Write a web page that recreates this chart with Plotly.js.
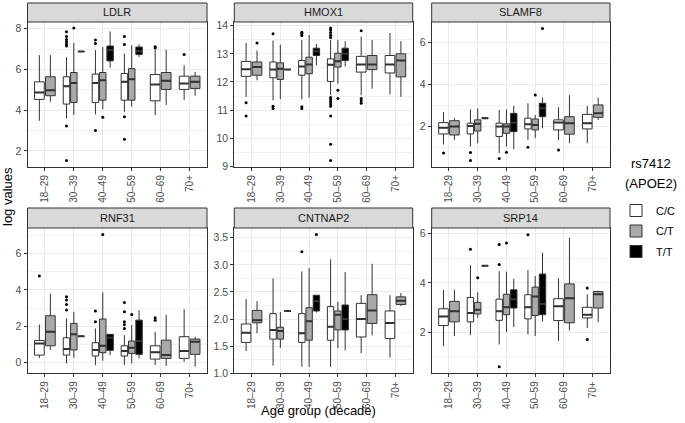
<!DOCTYPE html>
<html>
<head>
<meta charset="utf-8">
<script src="https://cdn.plot.ly/plotly-3.0.1.min.js"></script>
<style>
  html, body { margin: 0; padding: 0; background: #fff; }
  #chartDiv { width: 685px; height: 423px; }
</style>
</head>
<body>
<div id="chartDiv"></div>
<script>
// categories
var ageGroups = ['18–29', '30–39', '40–49', '50–59', '60–69', '70+'];
var genotypes = ['C/C', 'C/T', 'T/T'];
var genes = ['LDLR', 'HMOX1', 'SLAMF8', 'RNF31', 'CNTNAP2', 'SRP14'];

// box stats per age group: [lower whisker, q1, median, q3, upper whisker], null = no samples
var ldlrCC = [[3.48, 4.53, 4.87, 5.39, 6.70], [3.60, 4.30, 5.18, 5.64, 6.60], [3.79, 4.38, 5.33, 5.77, 6.95],
              [3.92, 4.49, 5.39, 5.80, 6.78], [3.76, 4.46, 5.26, 5.75, 6.95], [4.49, 5.02, 5.31, 5.67, 6.21]];
var ldlrCT = [[4.41, 4.71, 4.98, 5.64, 6.70], [3.76, 4.38, 5.34, 5.85, 7.30], [4.04, 4.49, 5.47, 5.85, 7.10],
              [4.17, 4.49, 5.52, 6.04, 7.18], [4.25, 5.02, 5.44, 5.85, 6.97], [4.71, 5.07, 5.39, 5.67, 5.88]];
var ldlrTT = [null, [6.88, 6.88, 6.88, 6.88, 6.88], [6.09, 6.42, 6.94, 7.15, 7.87], [6.61, 6.73, 6.89, 7.10, 7.23], null, null];
// outliers: [genotype index, age index, value]
var ldlrOut = [[0, 1, 7.85], [0, 1, 7.62], [0, 1, 7.47], [0, 1, 7.36], [0, 1, 7.25], [0, 1, 7.15], [0, 1, 3.22], [0, 1, 1.53],
               [0, 2, 7.45], [0, 2, 7.28], [0, 2, 3.0], [0, 3, 7.62], [0, 3, 7.22], [0, 3, 3.68], [0, 3, 2.57],
               [0, 4, 7.12], [0, 4, 7.05], [0, 5, 6.74], [1, 1, 8.03], [1, 2, 3.65]];

var hmoxCC = [[11.47, 12.20, 12.45, 12.73, 13.39], [11.35, 12.15, 12.44, 12.71, 13.47], [11.38, 12.24, 12.55, 12.76, 13.49],
              [11.53, 12.02, 12.61, 12.82, 13.49], [11.53, 12.35, 12.62, 12.91, 13.61], [11.56, 12.32, 12.62, 12.94, 13.74]];
var hmoxCT = [[12.06, 12.24, 12.53, 12.71, 13.12], [11.39, 12.09, 12.47, 12.68, 13.32], [11.45, 12.29, 12.62, 12.88, 13.67],
              [11.94, 12.53, 12.74, 13.02, 13.49], [11.76, 12.44, 12.62, 12.94, 13.49], [11.47, 12.18, 12.76, 13.00, 13.45]];
var hmoxTT = [null, [12.44, 12.44, 12.44, 12.44, 12.44], [12.59, 12.94, 13.09, 13.20, 13.35], [12.55, 12.76, 13.00, 13.20, 13.45], null, null];
var hmoxOut = [[0, 0, 11.26], [0, 0, 10.79], [0, 1, 13.71], [0, 1, 11.14], [0, 1, 11.06],
               [0, 2, 13.77], [0, 2, 13.71], [0, 2, 13.65], [0, 2, 11.12], [0, 2, 11.06],
               [0, 3, 13.92], [0, 3, 13.85], [0, 3, 13.76], [0, 3, 13.66], [0, 3, 13.58], [0, 3, 11.45], [0, 3, 11.38],
               [0, 3, 11.30], [0, 3, 11.22], [0, 3, 11.14], [0, 3, 10.79], [0, 3, 9.79], [0, 3, 9.21],
               [0, 4, 13.82], [0, 4, 11.41], [0, 4, 11.33], [0, 4, 11.24], [1, 0, 13.38], [1, 3, 11.71], [1, 3, 11.41]];

var slamCC = [[1.15, 1.65, 1.95, 2.19, 2.68], [1.05, 1.65, 2.03, 2.16, 2.82], [0.74, 1.53, 2.00, 2.16, 2.79],
              [1.37, 1.89, 2.11, 2.40, 3.11], [1.37, 1.84, 2.19, 2.32, 2.92], [1.21, 1.89, 2.16, 2.58, 2.98]];
var slamCT = [[1.37, 1.60, 2.00, 2.28, 2.40], [1.21, 1.79, 2.13, 2.32, 2.87], [1.05, 1.68, 2.00, 2.13, 2.82],
              [1.45, 1.84, 2.08, 2.36, 2.55], [1.21, 1.64, 2.16, 2.47, 3.50], [2.32, 2.44, 2.63, 3.03, 3.38]];
var slamTT = [null, [2.40, 2.40, 2.40, 2.40, 2.40], [0.92, 1.76, 2.19, 2.63, 2.98], [1.92, 2.47, 2.87, 3.11, 3.38], null, null];
var slamOut = [[0, 0, 0.74], [0, 1, 0.77], [0, 1, 0.39], [0, 2, 0.48], [0, 3, 1.02], [0, 4, 0.89],
               [1, 2, 0.78], [1, 3, 3.50], [2, 3, 6.66]];

var rnfCC = [[0.27, 0.42, 1.06, 1.22, 2.10], [-0.04, 0.42, 0.75, 1.37, 2.43], [-0.13, 0.37, 0.70, 1.10, 1.88],
             [-0.13, 0.37, 0.64, 0.93, 1.52], [-0.13, 0.20, 0.57, 0.93, 1.70], [0.05, 0.24, 0.64, 1.43, 2.93]];
var rnfCT = [[0.70, 0.93, 1.70, 2.58, 3.80], [0.27, 0.70, 1.56, 2.16, 2.80], [0.11, 0.55, 0.93, 2.40, 3.86],
             [-0.04, 0.51, 0.82, 1.19, 2.07], [-0.18, 0.24, 0.42, 1.24, 2.62], [-0.22, 0.46, 1.15, 1.30, 1.43]];
var rnfTT = [null, [1.45, 1.45, 1.45, 1.45, 1.45], [0.42, 0.68, 1.37, 1.56, 1.56], [0.24, 0.46, 1.19, 2.34, 2.89], null, null];
var rnfOut = [[0, 0, 4.76], [0, 1, 3.62], [0, 1, 3.44], [0, 1, 3.20], [0, 1, 2.89], [0, 2, 2.84], [0, 2, 2.25],
              [0, 3, 3.31], [0, 3, 2.80], [0, 3, 2.25], [0, 3, 2.10], [0, 3, 1.88], [0, 4, 2.47], [0, 4, 2.34],
              [1, 2, 7.04], [1, 3, 2.65]];

var cntCC = [[1.41, 1.57, 1.75, 1.91, 2.37], [1.14, 1.63, 1.80, 2.10, 2.75], [1.12, 1.57, 1.74, 2.10, 2.88],
             [1.12, 1.61, 1.86, 2.23, 3.10], [1.37, 1.67, 2.00, 2.29, 2.44], [1.29, 1.64, 1.93, 2.15, 2.44]];
var cntCT = [[1.74, 1.93, 1.98, 2.16, 2.33], [1.47, 1.63, 1.78, 1.85, 2.13], [1.12, 1.61, 1.96, 2.21, 2.94],
             [1.46, 1.80, 2.08, 2.15, 2.32], [1.70, 1.92, 2.16, 2.45, 3.02], [2.24, 2.27, 2.34, 2.41, 2.48]];
var cntTT = [null, [2.15, 2.15, 2.15, 2.15, 2.15], [2.12, 2.15, 2.33, 2.44, 2.44], [1.42, 1.80, 2.00, 2.26, 2.87], null, null];
var cntOut = [[0, 2, 3.24], [2, 2, 3.56]];

var srpCC = [[1.44, 2.27, 2.64, 2.95, 3.72], [1.88, 2.42, 2.78, 3.41, 4.72], [1.50, 2.48, 2.85, 3.34, 4.48],
             [1.91, 2.54, 3.01, 3.52, 4.52], [1.64, 2.47, 3.05, 3.36, 4.19], [2.17, 2.58, 2.71, 3.01, 3.54]];
var srpCT = [[1.84, 2.42, 2.85, 3.25, 3.72], [2.58, 2.74, 2.91, 3.21, 3.62], [2.01, 2.71, 3.01, 3.54, 4.46],
             [1.84, 2.68, 3.45, 3.83, 4.28], [2.07, 2.38, 3.38, 3.96, 5.84], [2.40, 2.98, 3.54, 3.65, 3.69]];
var srpTT = [null, [4.70, 4.70, 4.70, 4.70, 4.70], [2.21, 2.98, 3.34, 3.72, 4.16], [2.44, 2.71, 3.14, 4.36, 5.23], null, null];
var srpOut = [[0, 1, 5.37], [0, 2, 5.56], [0, 2, 4.75], [0, 2, 0.60], [0, 3, 5.96], [0, 5, 3.79], [0, 5, 1.70],
              [1, 1, 4.21], [1, 2, 5.62]];

// y axis ticks / ranges per facet (free scales)
var yRanges = [[1.21, 8.33], [8.98, 14.13], [0.08, 6.97], [-0.58, 7.40], [1.0, 3.68], [0.33, 6.23]];
var yTicks = [[2, 4, 6, 8], [9, 10, 11, 12, 13, 14], [2, 4, 6], [0, 2, 4, 6], [1, 1.5, 2, 2.5, 3, 3.5], [2, 4, 6]];
var yMinor = [[3, 5, 7], [9.5, 10.5, 11.5, 12.5, 13.5], [1, 3, 5], [1, 3, 5, 7], [1.25, 1.75, 2.25, 2.75, 3.25], [1, 3, 5]];

var stats = [[ldlrCC, ldlrCT, ldlrTT], [hmoxCC, hmoxCT, hmoxTT], [slamCC, slamCT, slamTT],
             [rnfCC, rnfCT, rnfTT], [cntCC, cntCT, cntTT], [srpCC, srpCT, srpTT]];
var outliers = [ldlrOut, hmoxOut, slamOut, rnfOut, cntOut, srpOut];

var fills = ['#FFFFFF', '#A9A9A9', '#000000'];
var edge = '#333333';
var FONT = 'Liberation Sans, Arial, sans-serif';
var W = 685, H = 423;
var dodgeW = 0.76; // total dodge width of a group

// panel pixel frames (left, right) and (top, bottom)
var colPx = [[27.5, 207], [234.3, 412.7], [431.7, 610]];
var rowPx = [[22, 167], [228, 373.3]];
var stripPx = [[3, 22], [208, 228]];

// dodge position of genotype g at age i in facet k
function dodge(k, g, i) {
    var present = [];
    for (var j = 0; j < 3; j++) if (stats[k][j][i]) present.push(j);
    var n = present.length;
    var slot = dodgeW / n;
    var pos = present.indexOf(g);
    return { x: i - dodgeW / 2 + slot * (pos + 0.5), w: slot * 0.88 };
}

var data = [];
var layout = {
    width: W, height: H,
    margin: { l: 0, r: 0, t: 0, b: 0 },
    paper_bgcolor: '#FFFFFF',
    plot_bgcolor: '#FFFFFF',
    font: { family: FONT, color: '#000000' },
    boxmode: 'overlay',
    showlegend: true,
    legend: {
        x: 616 / W, xanchor: 'left', y: 1 - 196 / H, yanchor: 'top',
        font: { size: 11, family: FONT, color: '#000000' },
        tracegroupgap: 1.5, itemwidth: 30, bgcolor: 'rgba(0,0,0,0)'
    },
    shapes: [],
    annotations: []
};

var shown = [false, false, false];
for (var k = 0; k < genes.length; k++) {
    var xa = k === 0 ? 'x' : 'x' + (k + 1);
    var ya = k === 0 ? 'y' : 'y' + (k + 1);
    var col = k % 3, row = Math.floor(k / 3);
    var xd = [colPx[col][0] / W, colPx[col][1] / W];
    var yd = [1 - rowPx[row][1] / H, 1 - rowPx[row][0] / H];

    var medX = [], medY = [];
    for (var i = 0; i < ageGroups.length; i++) {
        for (var g = 0; g < 3; g++) {
            var s = stats[k][g][i];
            if (!s) continue;
            var d = dodge(k, g, i);
            data.push({
                type: 'box', name: genotypes[g], legendgroup: genotypes[g], x: [d.x],
                lowerfence: [s[0]], q1: [s[1]], median: [s[2]], q3: [s[3]], upperfence: [s[4]],
                width: d.w, whiskerwidth: 0, boxpoints: false,
                fillcolor: fills[g], line: { color: edge, width: 1 },
                xaxis: xa, yaxis: ya, hoverinfo: 'skip',
                showlegend: !shown[g]
            });
            shown[g] = true;
            medX.push(d.x - d.w / 2, d.x + d.w / 2, null);
            medY.push(s[2], s[2], null);
        }
    }
    // thicker median bars like ggplot
    data.push({ type: 'scatter', mode: 'lines', x: medX, y: medY, xaxis: xa, yaxis: ya,
        line: { color: edge, width: 2 }, showlegend: false, hoverinfo: 'skip' });

    var ox = [], oy = [];
    outliers[k].forEach(function (o) {
        ox.push(dodge(k, o[0], o[1]).x);
        oy.push(o[2]);
    });
    data.push({ type: 'scatter', mode: 'markers', x: ox, y: oy, xaxis: xa, yaxis: ya,
        marker: { color: '#000000', size: 3 }, showlegend: false, hoverinfo: 'skip' });

    layout['xaxis' + (k === 0 ? '' : k + 1)] = {
        domain: xd, anchor: ya, range: [-0.6, 5.6],
        tickmode: 'array', tickvals: [0, 1, 2, 3, 4, 5], ticktext: ageGroups, tickangle: -90,
        showgrid: true, gridcolor: '#EBEBEB', gridwidth: 1, zeroline: false,
        showline: true, mirror: true, linecolor: edge, linewidth: 1,
        ticks: 'outside', ticklen: 3, tickcolor: edge, tickwidth: 1,
        tickfont: { size: 10, color: '#4D4D4D', family: FONT }, fixedrange: true
    };
    layout['yaxis' + (k === 0 ? '' : k + 1)] = {
        domain: yd, anchor: xa, range: yRanges[k],
        tickmode: 'array', tickvals: yTicks[k], tickformat: k === 4 ? '.1f' : '',
        showgrid: true, gridcolor: '#EBEBEB', gridwidth: 1, zeroline: false,
        minor: { tickmode: 'array', tickvals: yMinor[k], showgrid: true, gridcolor: '#F2F2F2', gridwidth: 1, ticks: '' },
        showline: true, mirror: true, linecolor: edge, linewidth: 1,
        ticks: 'outside', ticklen: 3, tickcolor: edge, tickwidth: 1,
        tickfont: { size: 10.5, color: '#4D4D4D', family: FONT }, fixedrange: true
    };

    // facet strip
    layout.shapes.push({ type: 'rect', xref: 'paper', yref: 'paper',
        x0: xd[0], x1: xd[1], y0: 1 - stripPx[row][1] / H, y1: 1 - stripPx[row][0] / H,
        fillcolor: '#D9D9D9', line: { color: edge, width: 1 } });
    layout.annotations.push({ xref: 'paper', yref: 'paper', x: (xd[0] + xd[1]) / 2,
        y: 1 - (stripPx[row][0] + stripPx[row][1]) / 2 / H, yanchor: 'middle', xanchor: 'center',
        text: genes[k], showarrow: false, font: { size: 11, color: '#1A1A1A', family: FONT } });
}

// shared axis titles
layout.annotations.push({ xref: 'paper', yref: 'paper', x: (colPx[0][0] + colPx[2][1]) / 2 / W, y: 1 - 410 / H,
    xanchor: 'center', yanchor: 'middle', text: 'Age group (decade)', showarrow: false,
    font: { size: 13, family: FONT, color: '#000000' } });
layout.annotations.push({ xref: 'paper', yref: 'paper', x: 7 / W, y: 1 - 197 / H,
    xanchor: 'center', yanchor: 'middle', text: 'log values', textangle: -90, showarrow: false,
    font: { size: 13, family: FONT, color: '#000000' } });
// legend title
layout.annotations.push({ xref: 'paper', yref: 'paper', x: 651 / W, y: 1 - 163 / H,
    xanchor: 'center', yanchor: 'middle', text: 'rs7412', showarrow: false,
    font: { size: 13, family: FONT, color: '#000000' } });
layout.annotations.push({ xref: 'paper', yref: 'paper', x: 651 / W, y: 1 - 183 / H,
    xanchor: 'center', yanchor: 'middle', text: '(APOE2)', showarrow: false,
    font: { size: 13, family: FONT, color: '#000000' } });

Plotly.newPlot('chartDiv', data, layout, { displayModeBar: false, staticPlot: true });
</script>
</body>
</html>
